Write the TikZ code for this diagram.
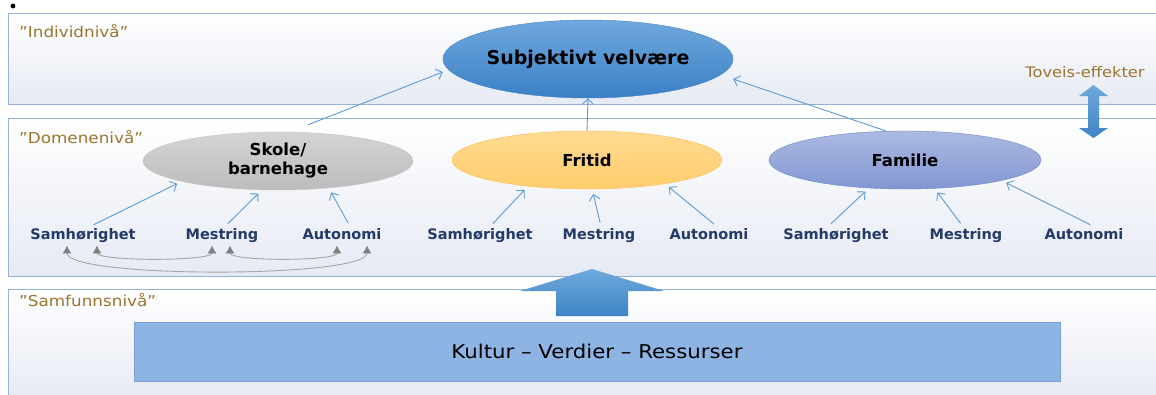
\documentclass[tikz,border=0pt]{standalone}
\usepackage{fontspec}
\setmainfont{DejaVu Sans}
\newfontfamily\widefont[FakeStretch=1.12]{DejaVu Sans}
\usepackage{tikz}
\usetikzlibrary{shapes}
\usetikzlibrary{arrows.meta}

\definecolor{panelline}{RGB}{149,179,215}
\definecolor{panelbot}{RGB}{230,234,244}
\definecolor{levelgold}{RGB}{156,117,44}
\definecolor{labelnavy}{RGB}{36,58,104}
\definecolor{linkblue}{RGB}{91,155,213}
\definecolor{subjtop}{RGB}{112,168,222}
\definecolor{subjbot}{RGB}{58,128,198}
\definecolor{subjline}{RGB}{70,130,195}
\definecolor{skoletop}{RGB}{212,212,212}
\definecolor{skolebot}{RGB}{188,188,188}
\definecolor{skoleline}{RGB}{196,196,196}
\definecolor{fritidtop}{RGB}{255,218,145}
\definecolor{fritidbot}{RGB}{255,206,108}
\definecolor{fritidline}{RGB}{245,190,80}
\definecolor{familietop}{RGB}{172,186,226}
\definecolor{familiebot}{RGB}{130,150,210}
\definecolor{familieline}{RGB}{110,135,200}
\definecolor{kulturfill}{RGB}{142,180,227}
\definecolor{kulturline}{RGB}{120,160,215}
\definecolor{bigtop}{RGB}{111,168,220}
\definecolor{bigbot}{RGB}{61,133,198}
\definecolor{loopgray}{RGB}{165,165,165}
\definecolor{tipgray}{RGB}{128,128,128}

\begin{document}
\begin{tikzpicture}[x=1pt,y=-1pt]
	\tikzstyle{panel}=[draw=panelline, top color=white, bottom color=panelbot, line width=0.8pt]
	\tikzstyle{levelname}=[anchor=west, text=levelgold, font=\widefont\fontsize{15}{18}\selectfont, inner sep=0pt]
	\tikzstyle{domainnode}=[ellipse, minimum width=270pt, minimum height=58pt, inner sep=0pt, font=\bfseries\fontsize{16.5}{19}\selectfont, align=center]
	\tikzstyle{need}=[text=labelnavy, font=\bfseries\fontsize{14.5}{17}\selectfont, inner sep=2pt, text height=11pt, text depth=3.5pt]
	\tikzstyle{toplink}=[draw=linkblue, line width=0.9pt, -{Straight Barb[length=5.5pt,width=11pt]}]
	\tikzstyle{uplink}=[toplink, shorten <=4pt, shorten >=5pt]
	\tikzstyle{bothway}=[draw=loopgray, line width=0.9pt, {Latex[length=8pt,width=9pt,color=tipgray]}-{Latex[length=8pt,width=9pt,color=tipgray]}]

	\useasboundingbox (0,0) rectangle (1156,394);

	\shade[panel] (8,13) rectangle (1170,104);
	\shade[panel] (8,118) rectangle (1170,276);
	\shade[panel] (8,289) rectangle (1170,400);

	\node[circle, fill=black, inner sep=1.7pt] (dot) at (13,6) {};
	\node[levelname] (individ) at (19,31) {”Individnivå”};
	\node[levelname] (domene) at (19,137) {”Domenenivå”};
	\node[levelname] (samfunn) at (19,300) {”Samfunnsnivå”};
	\node[text=levelgold, font=\widefont\fontsize{14.5}{17}\selectfont] (toveis) at (1085,72) {Toveis-effekter};

	\node[ellipse, draw=subjline, top color=subjtop, bottom color=subjbot, minimum width=290pt, minimum height=78pt, inner sep=0pt, font=\bfseries\fontsize{19}{22}\selectfont] (subj) at (588,59) {Subjektivt velvære};

	\node[domainnode, draw=skoleline, top color=skoletop, bottom color=skolebot] (skole) at (278,161) {Skole/\\barnehage};
	\node[domainnode, draw=fritidline, top color=fritidtop, bottom color=fritidbot] (fritid) at (587,160) {Fritid};
	\node[domainnode, draw=familieline, top color=familietop, bottom color=familiebot, minimum width=272pt] (familie) at (905,160) {Familie};

	\node[need] (samh1) at (83,236) {Samhørighet};
	\node[need] (mestr1) at (222,236) {Mestring};
	\node[need] (auto1) at (342,236) {Autonomi};
	\node[need] (samh2) at (480,236) {Samhørighet};
	\node[need] (mestr2) at (599,236) {Mestring};
	\node[need] (auto2) at (709,236) {Autonomi};
	\node[need] (samh3) at (836,236) {Samhørighet};
	\node[need] (mestr3) at (966,236) {Mestring};
	\node[need] (auto3) at (1084,236) {Autonomi};

	\node[draw=kulturline, fill=kulturfill, minimum width=926pt, minimum height=59pt, font=\widefont\fontsize{19}{22}\selectfont] (kultur) at (597,351.5) {Kultur – Verdier – Ressurser};

	\shade[top color=bigtop, bottom color=bigbot] (592,269) -- (664,291) -- (628,291) -- (628,316) -- (556,316) -- (556,291) -- (520,291) -- cycle;
	\shade[top color=bigtop, bottom color=bigbot] (1093.5,85) -- (1108,96) -- (1099,96) -- (1099,128) -- (1108,128) -- (1093.5,138) -- (1079,128) -- (1088,128) -- (1088,96) -- (1079,96) -- cycle;

	\draw[toplink] ([xshift=30pt,yshift=7pt]skole.north) -- ([yshift=-13pt]subj.west);
	\draw[toplink] (fritid.north) -- (subj.south);
	\draw[toplink] (familie.123) -- ([yshift=-20pt]subj.east);

	\draw[uplink] ([xshift=7pt]samh1.north) -- (skole.192);
	\draw[uplink] ([xshift=3pt]mestr1.north) -- (skole.241);
	\draw[uplink] ([xshift=8pt]auto1.north) -- (skole.332);
	\draw[uplink] ([xshift=10pt]samh2.north) -- (fritid.204);
	\draw[uplink] ([xshift=2pt]mestr2.north) -- (fritid.280);
	\draw[uplink] ([xshift=8pt]auto2.north) -- (fritid.343);
	\draw[uplink] ([xshift=-8pt]samh3.north) -- (familie.218);
	\draw[uplink] ([xshift=-3pt]mestr3.north) -- (familie.316);
	\draw[uplink] ([xshift=10pt]auto3.north) -- (familie.348);

	\draw[bothway] ([xshift=14pt]samh1.south) .. controls +(0,16) and +(0,16) .. ([xshift=-10pt]mestr1.south);
	\draw[bothway] ([xshift=8pt]mestr1.south) .. controls +(0,16) and +(0,16) .. ([xshift=-5pt]auto1.south);
	\draw[bothway] ([xshift=-16pt]samh1.south) .. controls +(0,33) and +(0,33) .. ([xshift=25pt]auto1.south);
\end{tikzpicture}
\end{document}
